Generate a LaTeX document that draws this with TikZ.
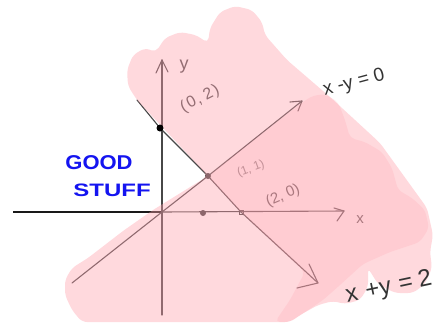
\documentclass[tikz,border=0pt]{standalone}
\usepackage{fontspec}
\setmainfont{Liberation Sans}
\definecolor{pinkc}{RGB}{255,160,172}
\definecolor{inkblue}{RGB}{20,20,240}
\begin{document}
\begin{tikzpicture}[x=1pt,y=-1pt,
  ax/.style={draw=black!72, line width=1.1pt, line cap=round, line join=round},
  tipline/.style={draw=black!72, line width=1.1pt, line cap=round, line join=round},
  pinkarea/.style={fill=pinkc, fill opacity=0.4, rounded corners=5pt},
  hand/.style={text=black!70, inner sep=0pt},
  dotn/.style={circle, fill=black!75, inner sep=0pt, minimum size=6pt},
  good/.style={text=inkblue, inner sep=0pt, font=\bfseries\fontsize{20}{20}\selectfont}
]
\useasboundingbox (0,0) rectangle (448,322);
\fill[white] (0,0) rectangle (448,322);
% coordinates
\coordinate (O) at (162,212);
\coordinate (P02) at (160,128);
\coordinate (P11) at (208,176);
\coordinate (P20) at (241,212);
\coordinate (xl) at (13,212);
\coordinate (xt) at (344,211);
\coordinate (yb) at (162,315);
\coordinate (yt) at (162,60);
\coordinate (s1) at (137,100);
\coordinate (s1e) at (318,283);
\coordinate (s2) at (72,283);
\coordinate (s2e) at (302,101);
% axes
\draw[black!90, line width=1.5pt] (xl) -- (O);
\draw[ax] (O) -- (xt);
\draw[tipline] (334,208) -- (xt) -- (337,221);
\draw[ax] (yb) -- (yt);
\draw[tipline] (156,73) -- (yt) -- (168,72);
% lines
\draw[ax] (s1) -- (P02) -- (P11) -- (P20) -- (s1e);
\draw[tipline] (309,264) -- (s1e) -- (297,288);
\draw[ax] (s2) -- (O) -- (P11) -- (s2e);
\draw[tipline] (290,102) -- (s2e) -- (298,111);
% dots under the pink
\node[dotn] (d11) at (P11) {};
\node[dotn] (d20a) at (203,213) {};
\node[draw=black!75, line width=1pt, inner sep=0pt, minimum size=4pt] (d20) at (P20) {};
% labels under the pink
\node[hand, font=\fontsize{18}{18}\selectfont] (ly) at (184,67) {y};
\node[hand, font=\fontsize{15}{15}\selectfont] (lx) at (360,220) {x};
\node[hand, rotate=27, font=\fontsize{16}{16}\selectfont] (l02) at (200,99) {(\hspace{1.5pt}0\hspace{1.5pt},\hspace{4pt}2\hspace{1.5pt})};
\node[hand, rotate=20, text=black!50, font=\fontsize{12}{12}\selectfont] (l11) at (251,169) {(1, 1)};
\node[hand, rotate=23, font=\fontsize{15}{15}\selectfont] (l20) at (283,196) {(2, 0)};
% pink shading
\fill[pinkarea] (137,100) -- (128,86) -- (127,70) -- (133,55) -- (145,48) -- (156,52) -- (165,38) -- (180,32) -- (196,35) -- (208,43) -- (210,28) -- (220,12) -- (235,6) -- (252,10) -- (262,22) -- (265,35) -- (287,60) -- (330,97) -- (380,143) -- (427,208) -- (433,235) -- (430,252) -- (432,268) -- (425,284) -- (413,293) -- (395,293) -- (378,284) -- (368,268) -- (368,287) -- (360,300) -- (345,304) -- (333,301) -- (318,305) -- (300,315) -- (290,322) -- (82,322) -- (72,310) -- (65,295) -- (65,280) -- (72,268) -- (88,258) -- (123,231) -- (153,210) -- (208,176) -- cycle;
\fill[pinkarea, fill opacity=0.22] (208,176) -- (300,104) -- (312,96) -- (325,94) -- (338,102) -- (345,120) -- (350,138) -- (365,142) -- (382,152) -- (392,168) -- (398,190) -- (412,198) -- (425,210) -- (429,228) -- (420,242) -- (390,252) -- (363,264) -- (340,285) -- (323,300) -- (290,322) -- (275,322) -- (290,300) -- (305,272) -- (241,212) -- cycle;
% on top
\node[circle, fill=black, inner sep=0pt, minimum size=7pt] (d02) at (P02) {};
\node[hand, text=black!80, rotate=15, font=\fontsize{19}{19}\selectfont] (lxy0) at (354,83) {x -y = 0};
\node[hand, text=black!80, rotate=12, font=\fontsize{24}{24}\selectfont] (lxy2) at (389,288) {x\hspace{8pt}+y\hspace{8pt}=\hspace{6pt}2};
\node[good, xscale=1.1] (good) at (99,163) {GOOD};
\node[good, xscale=1.2, yscale=0.9] (stuff) at (112,190) {STUFF};
\end{tikzpicture}
\end{document}
